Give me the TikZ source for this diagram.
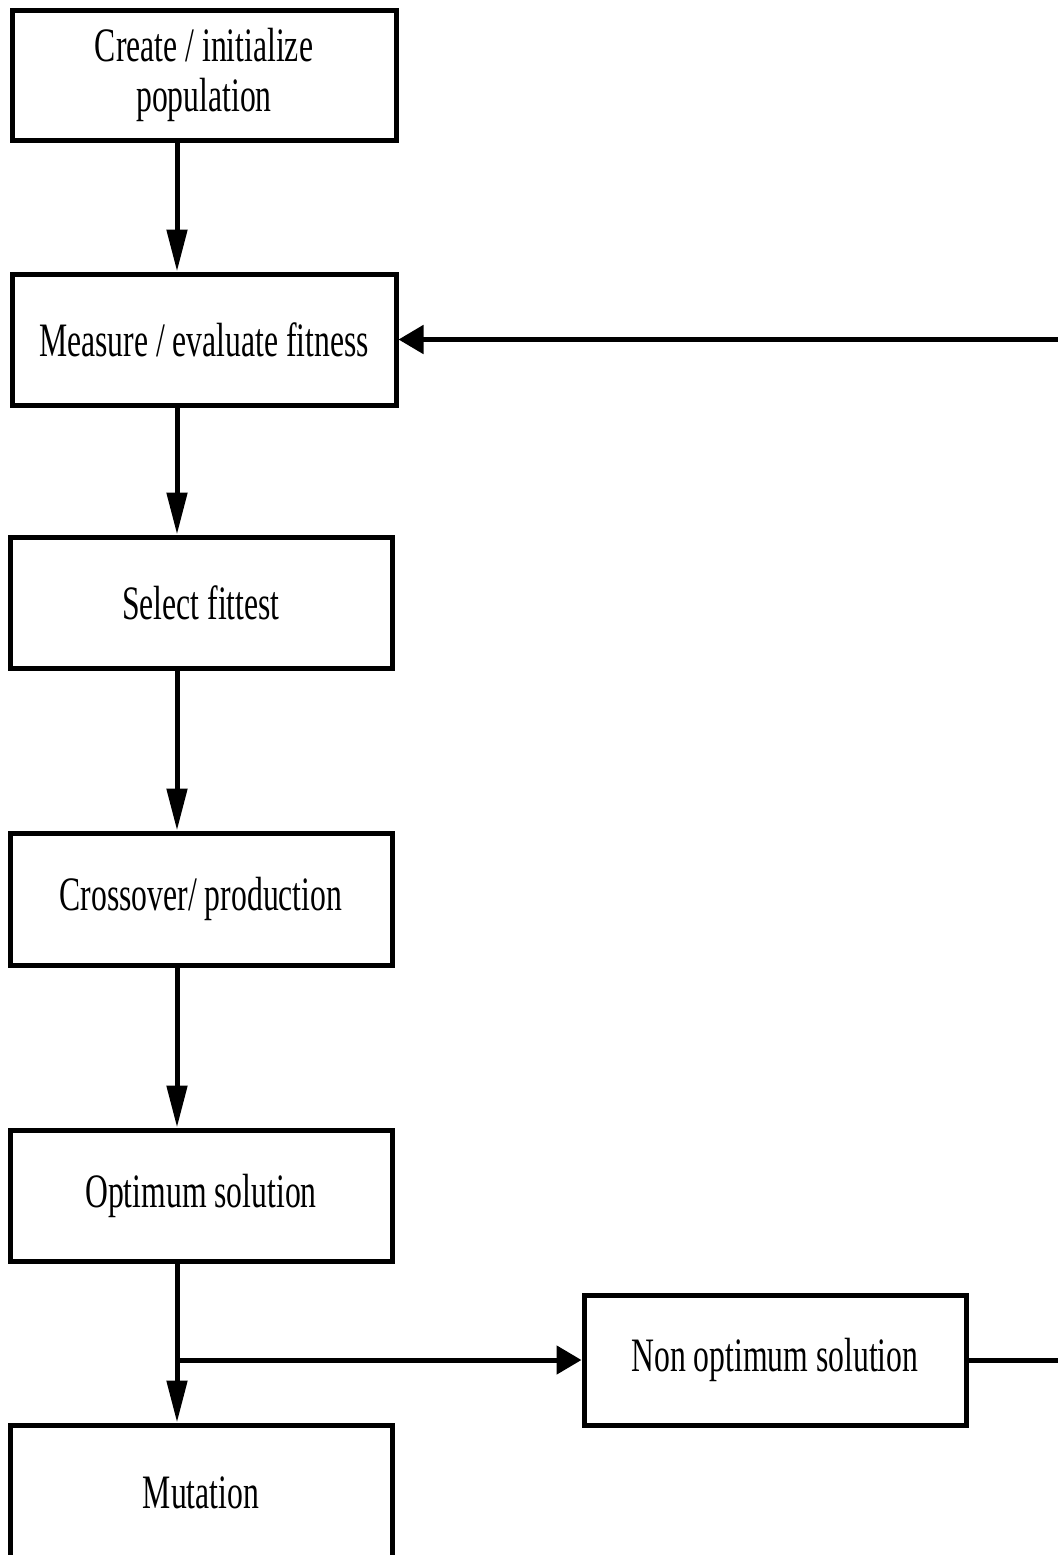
\documentclass[tikz,border=0pt]{standalone}
\usepackage{fontspec}
\setmainfont[FakeStretch=0.66]{Liberation Serif}
\usetikzlibrary{arrows.meta,calc}
\tikzset{
  box/.style={draw, line width=2.5pt, rectangle, inner sep=0pt,
    font=\fontsize{24pt}{25pt}\selectfont, align=center},
  flow/.style={line width=2.5pt},
  vtip/.style={-{Triangle[length=21pt,width=10pt]}},
  htip/.style={-{Triangle[length=12.5pt,width=14pt]}}
}
\begin{document}
\begin{tikzpicture}[x=0.5pt,y=-0.5pt]
\useasboundingbox (0,0) rectangle (1058,1555);
\clip (0,0) rectangle (1058,1555);
\fill[white] (0,0) rectangle (1058,1555);

% process boxes
\node[box, minimum width=192pt, minimum height=65pt] (create) at (204,75) {Create / initialize\\population};
\node[box, minimum width=192pt, minimum height=65.5pt] (measure) at (204,339.5) {Measure / evaluate fitness};
\node[box, minimum width=191pt, minimum height=65.5pt] (select) at (201,602.5) {Select fittest};
\node[box, minimum width=191pt, minimum height=66pt] (cross) at (201,899) {Crossover/ production};
\node[box, minimum width=191pt, minimum height=65.5pt] (optimum) at (201,1195.5) {Optimum solution};
\node[box, minimum width=191pt, minimum height=65pt] (nonopt) at (775,1360) {Non optimum solution};
\node[box, minimum width=191pt, minimum height=68pt] (mutation) at (201,1493) {Mutation};

% main spine of the flow
\coordinate (spine) at (177,0);
\coordinate (branch) at (177,1360);
\coordinate (loop) at (1080,0);

\draw[flow,vtip] (create.south -| spine) -- (measure.north -| spine);
\draw[flow,vtip] (measure.south -| spine) -- (select.north -| spine);
\draw[flow,vtip] (select.south -| spine) -- (cross.north -| spine);
\draw[flow,vtip] (cross.south -| spine) -- (optimum.north -| spine);
\draw[flow,vtip] (optimum.south -| spine) -- (mutation.north -| spine);
\draw[flow,htip] (branch) -- (nonopt.west);

% feedback loop back to fitness evaluation
\draw[flow,htip] (nonopt.east) -- (nonopt.east -| loop) -- (measure.east -| loop) -- (measure.east);
\end{tikzpicture}
\end{document}
